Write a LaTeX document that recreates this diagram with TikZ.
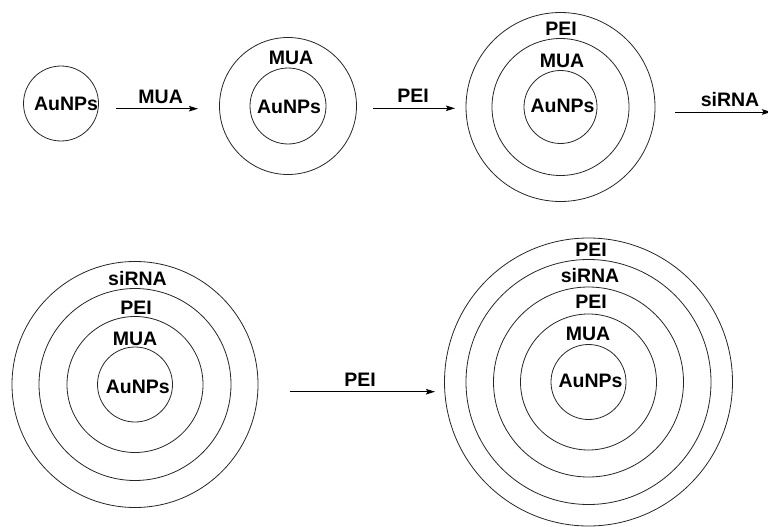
\documentclass[tikz,border=0pt]{standalone}
\usepackage{fontspec}
\setmainfont{Liberation Sans}
\usetikzlibrary{arrows.meta}
\begin{document}
\begin{tikzpicture}[x=1pt,y=-1pt,
  ring/.style={draw=black!85, line width=0.8pt, circle, inner sep=0pt, minimum size=#1},
  lbl/.style={font=\fontsize{19.5}{23}\selectfont\bfseries, inner sep=0pt, text height=14pt, text depth=0pt},
  arr/.style={line width=1pt, -{Stealth[length=9pt,width=5.5pt,inset=1.5pt]}}]
\useasboundingbox (0,0) rectangle (768,527);
% stage 1
\node[ring=75pt] (c1) at (61,103.5) {};
\node[lbl] (c1a) at (66,103) {AuNPs};
\coordinate (a1s) at (116,108.7);
\coordinate (a1e) at (198,108.7);
\draw[arr] (a1s) -- (a1e);
\node[lbl] (a1l) at (160.7,96) {MUA};
% stage 2
\node[ring=76pt] (c2i) at (288,106) {};
\node[ring=137pt] (c2o) at (288,106) {};
\node[lbl] (c2m) at (291,58) {MUA};
\node[lbl] (c2a) at (289,106) {AuNPs};
\coordinate (a2s) at (373,108.3);
\coordinate (a2e) at (455,108.3);
\draw[arr] (a2s) -- (a2e);
\node[lbl] (a2l) at (413,95) {PEI};
% stage 3
\node[ring=73pt] (c3i) at (560.5,107) {};
\node[ring=137pt] (c3m) at (560.5,107) {};
\node[ring=189pt] (c3o) at (560.5,107) {};
\node[lbl] (c3p) at (561,29) {PEI};
\node[lbl] (c3m2) at (562,60) {MUA};
\node[lbl] (c3a) at (562.5,105.5) {AuNPs};
\coordinate (a3s) at (675,112);
\coordinate (a3e) at (771,112);
\draw[arr] (a3s) -- (a3e);
\node[lbl] (a3l) at (730,99.5) {siRNA};
% stage 4
\node[ring=75pt] (c4i) at (135,384.5) {};
\node[ring=136pt] (c4m) at (135,384.5) {};
\node[ring=192pt] (c4n) at (135,384.5) {};
\node[ring=246pt] (c4o) at (135,384.5) {};
\node[lbl] (c4s) at (137.5,278) {siRNA};
\node[lbl] (c4p) at (136,307.5) {PEI};
\node[lbl] (c4m2) at (135,338) {MUA};
\node[lbl] (c4a) at (137.8,386) {AuNPs};
\coordinate (a4s) at (290,391.7);
\coordinate (a4e) at (435,391.7);
\draw[arr] (a4s) -- (a4e);
\node[lbl] (a4l) at (360,379) {PEI};
% stage 5
\node[ring=75pt] (c5i) at (588.5,382) {};
\node[ring=136pt] (c5m) at (588.5,382) {};
\node[ring=190pt] (c5n) at (588.5,382) {};
\node[ring=245pt] (c5q) at (588.5,382) {};
\node[ring=288pt] (c5o) at (588.5,382) {};
\node[lbl] (c5p2) at (591,249) {PEI};
\node[lbl] (c5s) at (590,275) {siRNA};
\node[lbl] (c5p) at (591,301) {PEI};
\node[lbl] (c5m2) at (588,333) {MUA};
\node[lbl] (c5a) at (590.5,380) {AuNPs};
\end{tikzpicture}
\end{document}
